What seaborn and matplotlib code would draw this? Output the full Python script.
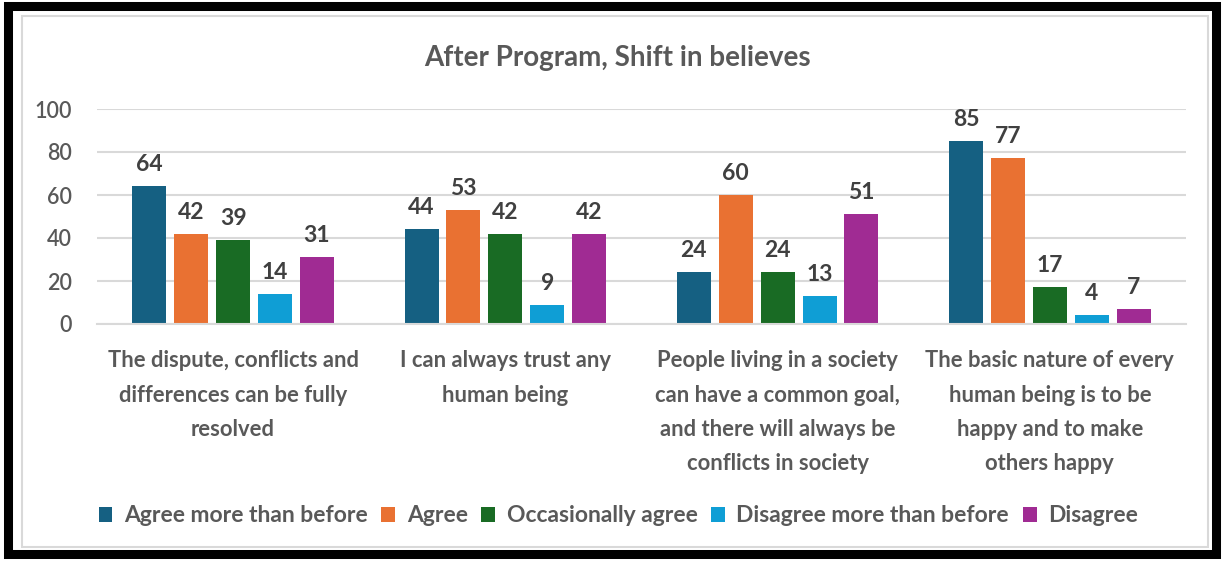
import matplotlib
matplotlib.use("Agg")
import matplotlib.pyplot as plt
from matplotlib.patches import Rectangle
import seaborn as sns
import pandas as pd

# Survey statements (x categories)
statements = [
    "The dispute, conflicts and\ndifferences can be fully\nresolved",
    "I can always trust any\nhuman being",
    "People living in a society\ncan have a common goal,\nand there will always be\nconflicts in society",
    "The basic nature of every\nhuman being is to be\nhappy and to make\nothers happy",
]

# Response categories (series)
responses = ["Agree more than before", "Agree", "Occasionally agree",
             "Disagree more than before", "Disagree"]

# Counts per response, one value per statement
agree_more = [64, 44, 24, 85]
agree = [42, 53, 60, 77]
occasionally = [39, 42, 24, 17]
disagree_more = [14, 9, 13, 4]
disagree = [31, 42, 51, 7]

y_ticks = [0, 20, 40, 60, 80, 100]

palette = ["#156082", "#E97132", "#196B24", "#0F9ED5", "#A02B93"]

series = [agree_more, agree, occasionally, disagree_more, disagree]
rows = []
for resp, vals in zip(responses, series):
    for stmt, v in zip(statements, vals):
        rows.append({"Statement": stmt, "Response": resp, "Count": v})
df = pd.DataFrame(rows)

sns.set_theme(style="white")
plt.rcParams["font.family"] = ["Lato", "DejaVu Sans"]

W, H = 1222, 562
fig = plt.figure(figsize=(W / 100, H / 100), dpi=100)
fig.patch.set_facecolor("white")

ax = fig.add_axes([97 / W, 1 - 324 / H, (1186 - 97) / W, (324 - 109) / H])

sns.barplot(data=df, x="Statement", y="Count", hue="Response",
            order=statements, hue_order=responses, palette=palette,
            saturation=1, width=0.77, gap=0.19, errorbar=None, linewidth=0,
            legend=False, ax=ax)

ax.set_xlim(-0.5, 3.5)
ax.set_ylim(0, 100)
ax.set_yticks(y_ticks)
ax.set_yticklabels([str(t) for t in y_ticks])
ax.yaxis.grid(True, color="#d9d9d9", linewidth=1.5)
ax.set_axisbelow(True)
for s in ["top", "right", "left"]:
    ax.spines[s].set_visible(False)
ax.spines["bottom"].set_color("#d9d9d9")
ax.spines["bottom"].set_linewidth(1.5)
ax.tick_params(axis="y", length=0, pad=18, labelsize=15.5, labelcolor="#595959")
ax.tick_params(axis="x", length=0, pad=19, labelsize=15.8, labelcolor="#595959")
for t in ax.get_yticklabels():
    t.set_fontweight("semibold")
for t in ax.get_xticklabels():
    t.set_fontweight("bold")
    t.set_linespacing(1.78)
    t.set_multialignment("center")
ax.set_xlabel("")
ax.set_ylabel("")

for cont in ax.containers:
    ax.bar_label(cont, padding=8, fontsize=16.5, fontweight="bold",
                 color="#404040")

fig.text(0.505, 1 - 58 / H, "After Program, Shift in believes",
         ha="center", va="center", fontsize=20, fontweight="bold",
         color="#595959")

handles = [Rectangle((0, 0), 1, 1, facecolor=c, edgecolor="none") for c in palette]
leg = fig.legend(handles, responses, loc="center",
                 bbox_to_anchor=(0.506, 1 - 516 / H), ncol=5, frameon=False,
                 handlelength=0.6, handleheight=0.6, handletextpad=0.5,
                 columnspacing=0.6, fontsize=16.5)
for t in leg.get_texts():
    t.set_color("#595959")
    t.set_fontweight("bold")

# Chart frame: light inner border and heavy outer border
fig.patches.append(Rectangle((22 / W, 1 - 547 / H), (1208 - 22) / W, (547 - 16) / H,
                             transform=fig.transFigure, fill=False,
                             edgecolor="#d9d9d9", linewidth=1.5))
fig.patches.append(Rectangle((8 / W, 1 - 554 / H), (1216 - 8) / W, (554 - 6) / H,
                             transform=fig.transFigure, fill=False,
                             edgecolor="black", linewidth=6.5))

fig.savefig("out.png", dpi=100, facecolor="white")
